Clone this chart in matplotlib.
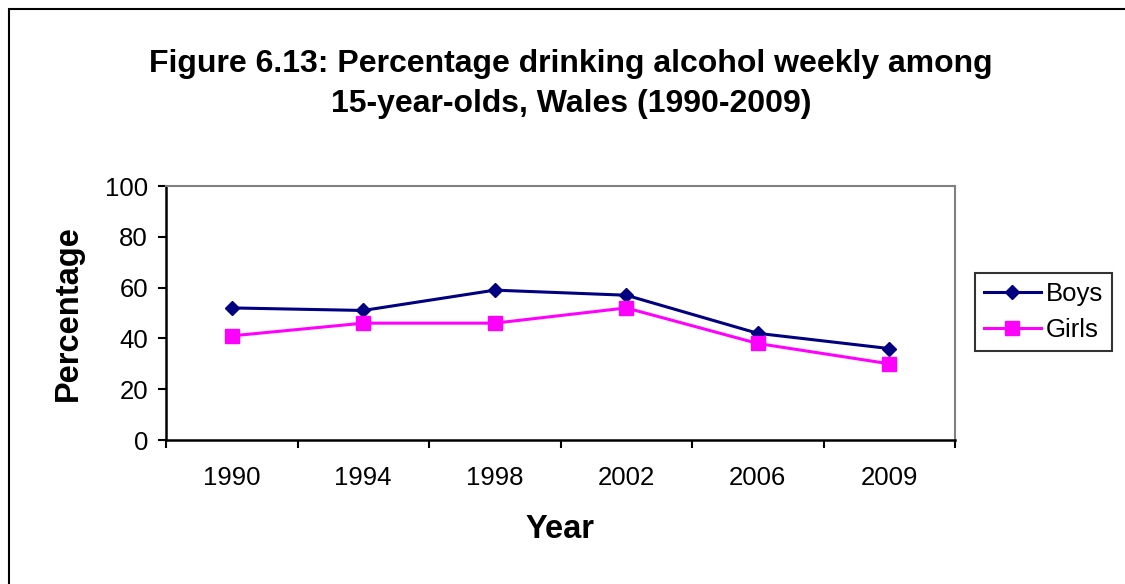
from matplotlib import pyplot as plt
from matplotlib.patches import Rectangle
import numpy as np

plt.rcParams['font.family'] = ['Liberation Sans', 'DejaVu Sans']

years = ['1990', '1994', '1998', '2002', '2006', '2009']
boys = [52, 51, 59, 57, 42, 36]
girls = [41, 46, 46, 52, 38, 30]

fig = plt.figure(figsize=(11.25, 5.84), dpi=100)

# outer chart frame (only left/top edges fall inside the picture)
fig.patches.append(Rectangle((9 / 1125, -0.1), 1.2, 1 - 9 / 584 + 0.1,
                             transform=fig.transFigure, fill=False,
                             edgecolor='black', linewidth=1.5))

ax = fig.add_axes([166 / 1125, 1 - 440 / 584, 789 / 1125, 254 / 584])

x = np.arange(len(years))
ax.plot(x, boys, color='#000080', linewidth=2.2, marker='D', markersize=7.5,
        label='Boys')
ax.plot(x, girls, color='#FF00FF', linewidth=2.2, marker='s', markersize=10,
        label='Girls')

ax.set_xlim(-0.5, len(years) - 0.5)
ax.set_ylim(0, 100)
ax.set_yticks(range(0, 101, 20))
ax.set_xticks(x)
ax.set_xticklabels(years)
ax.set_xticks(np.arange(-0.5, len(years)), minor=True)
ax.tick_params(axis='x', which='major', length=0, labelsize=18.5, pad=19)
ax.tick_params(axis='x', which='minor', length=6, width=1.5, direction='out')
ax.tick_params(axis='y', length=6, width=1.5, direction='out', labelsize=18.5, pad=7)

for side in ['left', 'bottom']:
    ax.spines[side].set_linewidth(1.8)
    ax.spines[side].set_color('black')
for side in ['top', 'right']:
    ax.spines[side].set_linewidth(1.5)
    ax.spines[side].set_color('#808080')

ax.set_ylabel('Percentage', fontsize=23.5, fontweight='bold', labelpad=15)
ax.set_xlabel('Year', fontsize=23.5, fontweight='bold', labelpad=17)

fig.text(571 / 1125, 1 - 84 / 584,
         'Figure 6.13: Percentage drinking alcohol weekly among\n15-year-olds, Wales (1990-2009)',
         ha='center', va='center', fontsize=23, fontweight='bold',
         linespacing=1.4)

leg = ax.legend(loc='center left', bbox_to_anchor=(975 / 1125, 1 - 312 / 584),
                bbox_transform=fig.transFigure, fontsize=18.5, frameon=True,
                fancybox=False, edgecolor='black', borderpad=0.35,
                handlelength=2.2, handletextpad=0.2, labelspacing=0.45,
                borderaxespad=0)
leg.get_frame().set_linewidth(1.5)

fig.savefig('out.png', dpi=100)
